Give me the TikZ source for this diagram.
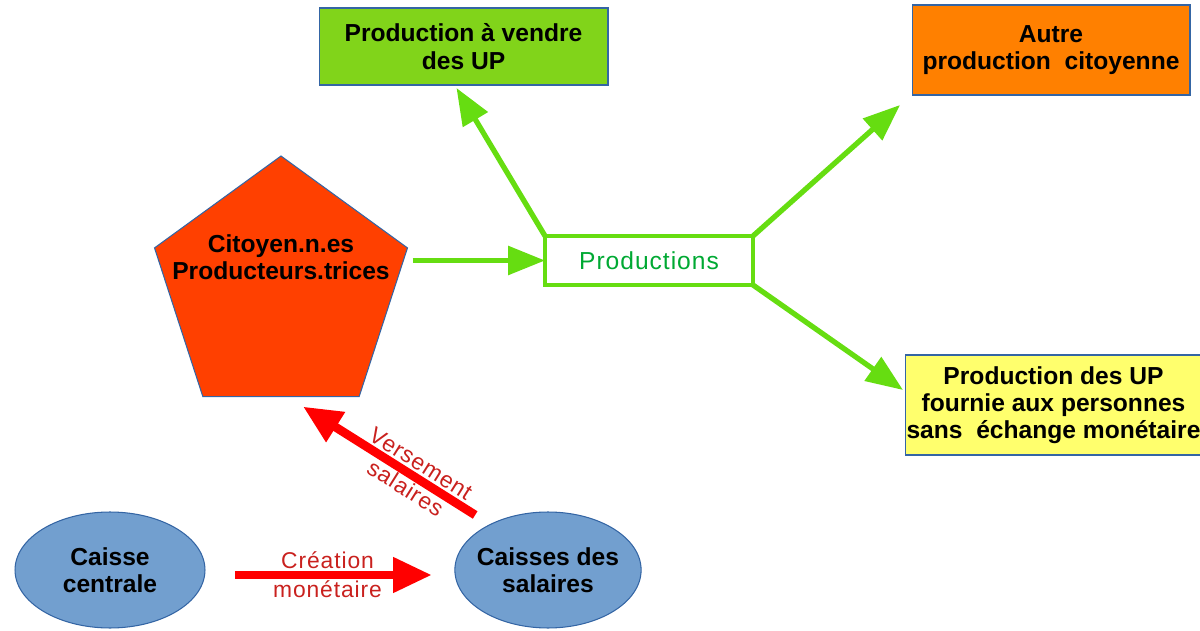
\documentclass[tikz,border=0pt]{standalone}
\usepackage{fontspec}
\setmainfont{Liberation Sans}
\newfontfamily\spacedfont[LetterSpace=4]{Liberation Sans}
\usetikzlibrary{calc,shapes.geometric,arrows.meta}
\definecolor{edge}{HTML}{3465A4}
\definecolor{citfill}{HTML}{FF4000}
\definecolor{vendfill}{HTML}{81D41A}
\definecolor{autrefill}{HTML}{FF8000}
\definecolor{fournfill}{HTML}{FFFF6D}
\definecolor{caisse}{HTML}{729FCF}
\definecolor{flowgreen}{HTML}{66DD11}
\definecolor{prodtext}{HTML}{00A933}
\definecolor{flowred}{HTML}{FF0000}
\definecolor{redtext}{HTML}{C9211E}
\newcommand{\boldtxt}{\fontsize{14}{15.5}\selectfont\bfseries}
\tikzset{
  box/.style={draw=edge, line width=0.6pt, inner sep=0pt, outer sep=0pt, align=center, font=\boldtxt},
  caissenode/.style={ellipse, box, fill=caisse, inner sep=-3pt},
  garrow/.style={draw=flowgreen, line width=3pt, -{Triangle[length=21pt,width=16pt]}},
  rarrow/.style={draw=flowred, line width=5pt, -{Triangle[length=22pt,width=19pt]}},
  redlab/.style={text=redtext, align=center, font=\spacedfont\fontsize{13}{16.5}\selectfont},
}

\begin{document}
\begin{tikzpicture}[x=0.02cm, y=-0.02cm]
  \useasboundingbox (0,0) rectangle (1200,631);

  % producers
  \node[regular polygon, regular polygon sides=5, minimum size=5.32cm, box, fill=citfill] (cit) at (281,289) {};
  \node[align=center, font=\boldtxt] (citlab) at (281,257) {Citoyen.n.es\\Producteurs.trices};

  % productions and where they go
  \node[draw=flowgreen, line width=2.2pt, minimum width=4.16cm, minimum height=0.98cm,
        inner sep=0pt, outer sep=0pt, text=prodtext, font=\spacedfont\fontsize{14}{16}\selectfont] (prod) at (649,260.5) {Productions};
  \node[box, fill=vendfill, minimum width=5.78cm, minimum height=1.54cm] (vend) at (463.5,46.5) {Production à vendre\\des UP};
  \node[box, fill=autrefill, minimum width=5.56cm, minimum height=1.8cm] (autre) at (1051,50) {Autre\\production~~citoyenne};
  \node[box, fill=fournfill, minimum width=5.94cm, minimum height=2cm] (fourn) at (1053.5,405) {Production des UP\\fournie aux personnes\\sans~~échange monétaire};

  % money
  \node[caissenode, minimum width=3.8cm, minimum height=2.32cm] (cc) at (110,570) {Caisse\\centrale};
  \node[caissenode, minimum width=3.72cm, minimum height=2.32cm] (sal) at (548,570) {Caisses des\\salaires};

  % green flows
  \draw[garrow] ([xshift=3pt]cit.corner 5 |- prod.west) -- (prod.west);
  \draw[garrow] (prod.north west) -- ($(vend.south)+(-7,3)$);
  \draw[garrow] (prod.north east) -- ($(autre.south west)+(-12,10)$);
  \draw[garrow] (prod.south east) -- ($(fourn.west)+(-2,-15)$);

  % red flows
  \draw[rarrow] ($(cc.east)+(30,5)$) -- node[redlab, pos=0.47] (crea) {Création\\monétaire} ($(sal.west)+(-23,5)$);
  \draw[rarrow] ($(sal.north west)+(-7,-14)$) -- node[redlab, sloped, pos=0.36] (vers) {Versement\\salaires} ($(cit.south)+(22,10)$);
\end{tikzpicture}
\end{document}
